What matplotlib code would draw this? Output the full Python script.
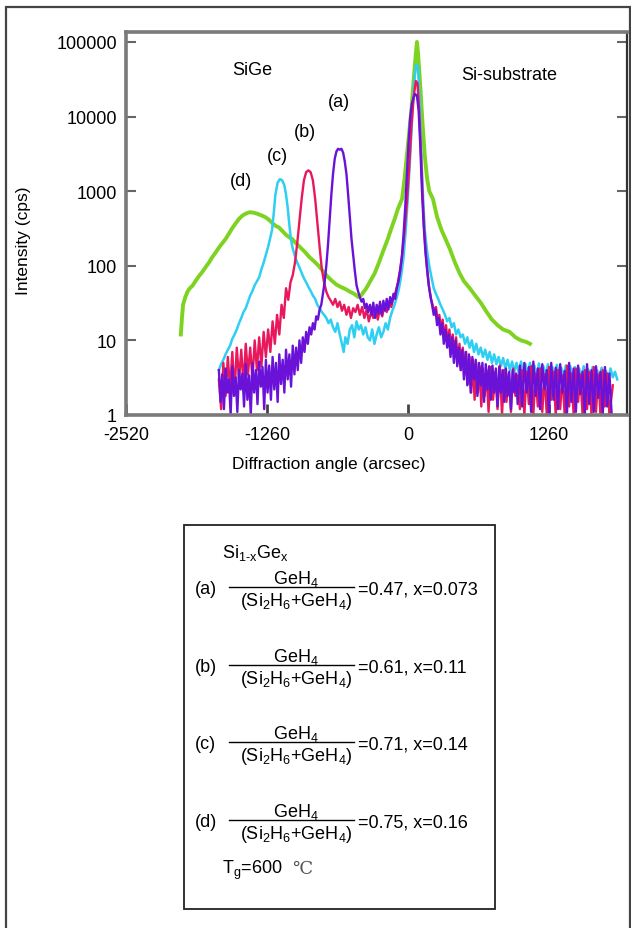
import matplotlib.pyplot as plt
from matplotlib.patches import Rectangle
from matplotlib.lines import Line2D
from matplotlib.ticker import FixedLocator, NullLocator

plt.rcParams['font.family'] = ['Liberation Sans', 'DejaVu Sans']
plt.rcParams['mathtext.fontset'] = 'custom'
plt.rcParams['mathtext.rm'] = 'Liberation Sans'
plt.rcParams['mathtext.it'] = 'Liberation Sans:italic'
plt.rcParams['mathtext.bf'] = 'Liberation Sans:bold'

# ---- data (x in arcsec, y in cps) ----
# (a) x=0.073
xa = [-1690, -1675, -1660, -1645, -1630, -1615, -1600, -1585, -1570, -1555,
      -1540, -1525, -1510, -1495, -1480, -1465, -1450, -1435, -1420, -1405,
      -1390, -1375, -1360, -1345, -1330, -1315, -1300, -1285, -1270, -1255,
      -1240, -1225, -1210, -1195, -1180, -1165, -1150, -1135, -1120, -1105,
      -1090, -1075, -1060, -1045, -1030, -1015, -1000, -985, -970, -955,
      -940, -925, -910, -895, -880, -865, -850, -835, -820, -805,
      -790, -775, -760, -745, -730, -715, -700, -685, -670, -655,
      -640, -625, -610, -595, -580, -565, -550, -535, -520, -505,
      -490, -475, -460, -445, -430, -415, -400, -385, -370, -355,
      -340, -325, -310, -295, -280, -265, -250, -235, -220, -205,
      -190, -175, -160, -145, -130, -115, -100, -85, -70, -55,
      -40, -25, -10, 5, 20, 35, 50, 65, 80, 95,
      110, 125, 140, 155, 170, 185, 200, 215, 230, 245,
      260, 275, 290, 305, 320, 335, 350, 365, 380, 395,
      410, 425, 440, 455, 470, 485, 500, 515, 530, 545,
      560, 575, 590, 605, 620, 635, 650, 665, 680, 695,
      710, 725, 740, 755, 770, 785, 800, 815, 830, 845,
      860, 875, 890, 905, 920, 935, 950, 965, 980, 1000,
      1020, 1040, 1060, 1080, 1100, 1120, 1140, 1160, 1180, 1200,
      1220, 1240, 1260, 1280, 1300, 1320, 1340, 1360, 1380, 1400,
      1420, 1440, 1460, 1480, 1500, 1520, 1540, 1560, 1580, 1600,
      1620, 1640, 1660, 1680, 1700, 1720, 1740, 1760, 1780, 1800, 1820]
ya = [4.0, 1.5, 3.5, 1.2, 4.2, 2.0, 3.0, 1.0, 4.5, 1.8,
      3.2, 1.1, 4.0, 2.2, 3.6, 1.3, 4.8, 1.6, 3.4, 1.0,
      5.0, 2.0, 4.0, 1.4, 5.2, 2.4, 4.4, 1.2, 5.5, 2.0,
      4.6, 1.6, 6.0, 2.2, 5.0, 1.5, 6.5, 2.6, 5.5, 2.0,
      7.5, 3.0, 6.5, 2.4, 8.5, 3.5, 8.0, 4.0, 10, 5.0,
      11, 7.0, 13, 9.0, 15, 12, 17, 14, 21, 19,
      26, 30, 42, 60, 100, 190, 420, 900, 1700, 2700,
      3400, 3700, 3600, 3700, 3300, 2500, 1700, 900, 450, 230,
      140, 85, 55, 45, 38, 33, 36, 27, 31, 24,
      30, 22, 32, 20, 30, 23, 33, 22, 34, 25,
      36, 26, 38, 31, 42, 36, 50, 62, 85, 130,
      260, 600, 1600, 4500, 10000, 15000, 18000, 20000, 19000, 12000,
      4000, 1000, 350, 160, 90, 55, 40, 30, 22, 26,
      16, 20, 12, 17, 9.0, 14, 8.0, 12, 6.0, 11,
      5.0, 10, 4.5, 8.0, 4.0, 7.5, 3.0, 7.0, 2.5, 6.5,
      2.0, 6.0, 3.0, 5.5, 1.8, 5.0, 2.5, 5.0, 1.5, 4.8,
      2.2, 4.5, 1.6, 4.6, 2.0, 4.2, 1.3, 4.4, 2.0, 4.0,
      1.5, 4.2, 1.8, 3.8, 1.2, 4.0, 2.0, 3.6, 1.4, 4.6,
      1.3, 5.0, 2.0, 4.4, 1.1, 5.2, 1.8, 4.2, 1.2, 4.8,
      2.2, 4.0, 1.0, 5.0, 1.6, 4.3, 1.2, 4.8, 2.0, 3.9,
      1.0, 5.0, 1.5, 4.2, 1.1, 4.6, 1.9, 3.8, 1.0, 4.8,
      1.4, 4.0, 1.1, 4.5, 1.7, 3.8, 1.0, 4.4, 1.3, 3.6, 1.0]

# (b) x=0.11
xb = [-1690, -1670, -1650, -1630, -1610, -1590, -1570, -1550, -1530, -1510,
      -1490, -1470, -1450, -1430, -1410, -1390, -1370, -1350, -1330, -1310,
      -1290, -1270, -1250, -1230, -1210, -1190, -1170, -1150, -1130, -1110,
      -1090, -1070, -1050, -1030, -1010, -990, -970, -950, -930, -910,
      -890, -870, -850, -830, -810, -790, -770, -750, -730, -710,
      -690, -670, -650, -630, -610, -590, -570, -550, -530, -510,
      -490, -470, -450, -430, -410, -390, -370, -350, -330, -310,
      -290, -270, -250, -230, -210, -190, -170, -150, -130, -110,
      -90, -70, -50, -30, -10, 10, 30, 50, 70, 85,
      100, 115, 130, 145, 160, 175, 190, 205, 220, 235,
      250, 265, 280, 295, 310, 325, 340, 355, 370, 385,
      400, 415, 430, 445, 460, 475, 490, 505, 520, 535,
      550, 565, 580, 595, 610, 625, 640, 655, 670, 685,
      700, 720, 740, 760, 780, 800, 820, 840, 860, 880,
      900, 920, 940, 960, 980, 1000, 1020, 1040, 1060, 1080,
      1100, 1120, 1140, 1160, 1180, 1200, 1220, 1240, 1260, 1280,
      1300, 1320, 1340, 1360, 1380, 1400, 1420, 1440, 1460, 1480,
      1500, 1520, 1540, 1560, 1580, 1600, 1620, 1640, 1660, 1680,
      1700, 1720, 1740, 1760, 1780, 1800, 1830]
yb = [3.0, 1.2, 5.0, 1.8, 6.0, 2.2, 7.0, 2.0, 8.0, 3.0,
      7.5, 2.5, 9.0, 3.5, 8.0, 3.0, 10, 4.0, 11, 4.5,
      13, 6.0, 14, 7.0, 18, 9.0, 22, 12, 30, 20,
      50, 35, 60, 75, 110, 200, 400, 800, 1400, 1800,
      1900, 1800, 1400, 800, 380, 180, 90, 60, 45, 38,
      34, 30, 36, 28, 33, 25, 30, 22, 28, 20,
      27, 24, 30, 22, 28, 20, 26, 18, 24, 20,
      26, 19, 27, 21, 30, 24, 33, 28, 38, 45,
      60, 90, 150, 300, 700, 2000, 7000, 18000, 30000, 28000,
      12000, 3500, 900, 300, 140, 80, 50, 36, 30, 24,
      28, 18, 22, 14, 19, 11, 16, 9.0, 14, 8.0,
      12, 6.0, 11, 5.0, 9.0, 4.0, 8.0, 3.5, 7.0, 2.6,
      6.0, 2.0, 5.5, 1.6, 5.0, 2.0, 4.5, 1.3, 4.2, 1.8,
      4.0, 1.1, 4.4, 1.6, 3.8, 1.2, 4.6, 1.0, 4.0, 1.5,
      3.6, 1.1, 4.2, 1.8, 3.4, 1.2, 4.0, 1.0, 3.8, 1.4,
      4.5, 1.0, 3.6, 1.3, 4.2, 1.1, 3.5, 1.0, 4.4, 1.6,
      3.8, 1.0, 4.0, 1.2, 3.4, 1.0, 4.6, 1.3, 3.6, 1.0,
      4.2, 1.5, 3.5, 1.0, 4.0, 1.2, 3.8, 1.0, 4.4, 1.1,
      3.5, 1.0, 4.0, 1.3, 3.6, 1.0, 2.5]

# (c) x=0.14
xc = [-1690, -1670, -1650, -1630, -1610, -1590, -1570, -1550, -1530, -1510,
      -1490, -1470, -1450, -1430, -1410, -1390, -1370, -1350, -1330, -1310,
      -1290, -1270, -1250, -1230, -1215, -1200, -1185, -1165, -1145, -1125,
      -1105, -1090, -1075, -1060, -1045, -1030, -1010, -990, -970, -950,
      -930, -910, -890, -870, -850, -830, -810, -790, -770, -750,
      -730, -710, -690, -670, -650, -630, -610, -590, -575, -560,
      -540, -520, -500, -480, -460, -440, -420, -400, -380, -360,
      -340, -320, -300, -280, -260, -240, -220, -200, -180, -160,
      -140, -120, -100, -80, -60, -40, -20, 0, 20, 40,
      60, 75, 90, 105, 120, 135, 150, 170, 190, 210,
      230, 250, 270, 290, 310, 330, 350, 370, 390, 410,
      430, 450, 470, 490, 510, 530, 550, 570, 590, 610,
      630, 650, 670, 690, 710, 730, 750, 770, 790, 810,
      830, 850, 870, 890, 910, 930, 950, 970, 990, 1010,
      1030, 1050, 1070, 1090, 1110, 1130, 1150, 1170, 1190, 1210,
      1230, 1250, 1270, 1290, 1310, 1330, 1350, 1370, 1390, 1410,
      1430, 1450, 1470, 1490, 1510, 1530, 1550, 1570, 1590, 1610,
      1630, 1650, 1670, 1690, 1710, 1730, 1750, 1770, 1790, 1810,
      1830, 1850, 1870]
yc = [4.0, 4.8, 5.5, 6.5, 7.5, 8.5, 10.5, 12, 14, 17,
      20, 24, 27, 33, 40, 46, 55, 62, 70, 90,
      110, 140, 180, 240, 300, 500, 900, 1300, 1450, 1400,
      1200, 900, 600, 350, 220, 170, 135, 110, 95, 80,
      68, 60, 52, 46, 40, 36, 30, 27, 24, 22,
      20, 17, 19, 15, 13, 17, 12, 9.0, 7.0, 11,
      9.0, 14, 16, 11, 18, 14, 16, 12, 15, 11,
      10, 14, 9.0, 12, 15, 11, 13, 17, 14, 20,
      25, 30, 38, 50, 75, 130, 300, 900, 3000, 12000,
      35000, 50000, 45000, 15000, 3000, 800, 300, 160, 100, 70,
      50, 42, 36, 30, 26, 22, 18, 20, 15, 17,
      12, 14, 11, 12, 9.0, 11, 8.0, 10, 7.0, 9.0,
      6.5, 8.0, 6.0, 7.5, 5.5, 7.0, 5.0, 6.5, 4.8, 6.0,
      4.5, 5.8, 4.2, 5.5, 4.0, 5.2, 3.8, 5.0, 3.6, 5.2,
      3.5, 4.8, 3.4, 5.0, 3.6, 4.6, 3.2, 4.9, 3.5, 4.5,
      3.3, 4.8, 3.4, 4.4, 3.2, 4.7, 3.5, 4.3, 3.1, 4.6,
      3.3, 4.5, 3.0, 4.4, 3.4, 4.2, 3.1, 4.5, 3.2, 4.1,
      3.0, 4.4, 3.2, 4.0, 3.0, 4.3, 3.1, 3.9, 3.0, 4.2,
      3.2, 3.8, 3.0]

# (d) x=0.16
xd = [-2030, -2020, -2010, -1990, -1970, -1950, -1926, -1900, -1870, -1840,
      -1810, -1778, -1750, -1720, -1690, -1660, -1630, -1600, -1570, -1540,
      -1511, -1480, -1450, -1420, -1407, -1380, -1350, -1320, -1290, -1273,
      -1240, -1210, -1180, -1155, -1120, -1090, -1060, -1036, -1000, -960,
      -917, -880, -840, -799, -760, -720, -680, -640, -600, -561,
      -520, -480, -442, -420, -400, -380, -360, -338, -300, -260,
      -220, -180, -160, -120, -90, -53, -30, -10, 10, 30,
      50, 70, 80, 90, 110, 130, 150, 170, 190, 223,
      260, 300, 340, 374, 420, 460, 500, 552, 600, 650,
      703, 750, 800, 850, 908, 960, 1010, 1060, 1090]
yd = [12, 20, 30, 38, 45, 50, 54, 62, 72, 82,
      95, 111, 130, 150, 175, 200, 229, 270, 320, 370,
      424, 470, 500, 520, 521, 515, 500, 480, 460, 447,
      410, 370, 340, 328, 290, 260, 240, 229, 200, 175,
      151, 130, 115, 100, 85, 72, 63, 56, 52, 49,
      45, 42, 38, 40, 44, 48, 54, 62, 78, 110,
      160, 230, 284, 420, 580, 786, 1500, 3000, 6000, 12000,
      30000, 70000, 100000, 70000, 25000, 8000, 3000, 1500, 1000, 786,
      450, 300, 220, 168, 110, 80, 62, 50, 40, 32,
      24, 19, 16, 14, 13, 11, 10, 9.5, 9.0]

peak_labels = ['(a)', '(b)', '(c)', '(d)']
peak_label_x = [-620, -917, -1169, -1496]
peak_label_y = [15700, 6400, 3030, 1400]

gas_ratio = ['0.47', '0.61', '0.71', '0.75']
ge_content = ['0.073', '0.11', '0.14', '0.16']

x_ticks = [-2520, -1260, 0, 1260]
y_ticks = [1, 10, 100, 1000, 10000, 100000]
y_tick_labels = ['1', '10', '100', '1000', '10000', '100000']

# ---- figure ----
W, H = 631, 929
fig = plt.figure(figsize=(W / 100, H / 100), dpi=100)


def fx(px):
    return px / W


def fy(py):
    return 1 - py / H


# outer frame
fig.add_artist(Rectangle((fx(5.5), fy(940)), fx(629.5) - fx(5.5), fy(7.5) - fy(940),
                         transform=fig.transFigure, fill=False,
                         edgecolor='#444444', linewidth=1.6))

ax = fig.add_axes([fx(126), fy(416), (627 - 126) / W, (416 - 33) / H])

ax.plot(xd, yd, color='#7ed321', linewidth=2.8)
ax.plot(xc, yc, color='#2ecff2', linewidth=1.8)
ax.plot(xb, yb, color='#e8185c', linewidth=1.7)
ax.plot(xa, ya, color='#6a12d8', linewidth=1.7)

ax.set_yscale('log')
ax.set_xlim(-2520, 1957)
ax.set_ylim(1, 1.36e5)

ax.xaxis.set_major_locator(FixedLocator(x_ticks))
ax.set_xticklabels([str(v) for v in x_ticks])
ax.yaxis.set_major_locator(FixedLocator(y_ticks))
ax.yaxis.set_minor_locator(NullLocator())
ax.set_yticklabels(y_tick_labels)

ax.tick_params(axis='y', direction='in', left=True, right=True, length=7,
               width=1.5, color='#666666', pad=6.5, labelsize=13)
ax.tick_params(axis='x', direction='in', length=8, width=2,
               color='#444444', pad=8, labelsize=13)

for side in ['left', 'top', 'bottom']:
    ax.spines[side].set_color('#7a7a7a')
    ax.spines[side].set_linewidth(2.6)
ax.spines['right'].set_color('#333333')
ax.spines['right'].set_linewidth(1.6)

ax.text(-1389, 42200, 'SiGe', fontsize=13, ha='center', va='center')
ax.text(908, 36100, 'Si-substrate', fontsize=13, ha='center', va='center')
for lab, lx, ly in zip(peak_labels, peak_label_x, peak_label_y):
    ax.text(lx, ly, lab, fontsize=13, ha='center', va='center')

fig.text(fx(24), fy(241), 'Intensity (cps)', rotation=90, fontsize=12.5,
         ha='center', va='center')
fig.text(fx(329), fy(465), 'Diffraction angle (arcsec)', fontsize=12.5,
         ha='center', va='center')

# ---- composition box ----
fig.add_artist(Rectangle((fx(184), fy(910)), fx(495) - fx(184), fy(526) - fy(910),
                         transform=fig.transFigure, fill=False,
                         edgecolor='#222222', linewidth=1.3))

fig.text(fx(222), fy(553), r'Si$_\mathrm{1\text{-}x}$Ge$_\mathrm{x}$', fontsize=13,
         ha='left', va='center')

row_y = [590, 668, 745, 823]
for lab, r, xg, ry in zip(peak_labels, gas_ratio, ge_content, row_y):
    fig.text(fx(195), fy(ry), lab, fontsize=13, ha='left', va='center')
    fig.text(fx(296), fy(ry - 11), r'GeH$_\mathrm{4}$', fontsize=13,
             ha='center', va='center')
    fig.add_artist(Line2D([fx(229), fx(354)], [fy(ry - 2), fy(ry - 2)],
                          transform=fig.transFigure, color='black', linewidth=1.0))
    fig.text(fx(296), fy(ry + 12), r'(Si$_\mathrm{2}$H$_\mathrm{6}$+GeH$_\mathrm{4}$)',
             fontsize=13, ha='center', va='center')
    fig.text(fx(358), fy(ry), '=' + r + ', x=' + xg, fontsize=13,
             ha='left', va='center')

fig.text(fx(222), fy(870), r'T$_\mathrm{g}$=600', fontsize=13, ha='left', va='center')
fig.text(fx(292), fy(869), '\u2103', fontsize=13, ha='left', va='center',
         color='#555555', family=['DejaVu Serif', 'DejaVu Sans'])

fig.savefig('out.png', dpi=100)
